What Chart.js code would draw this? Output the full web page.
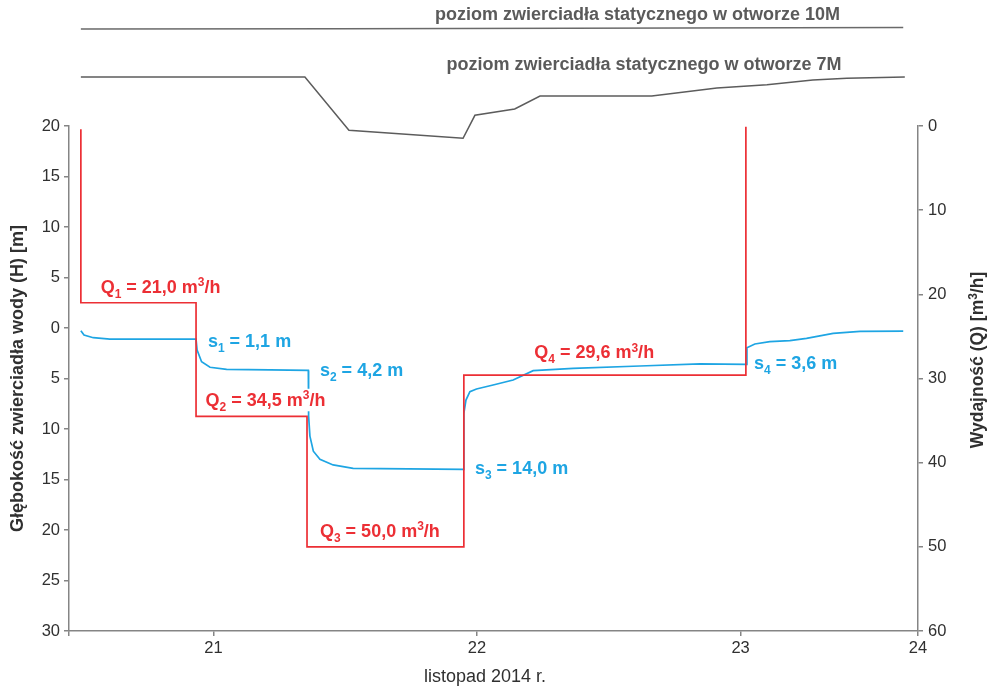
<!DOCTYPE html>
<html>
<head>
<meta charset="utf-8">
<script src="https://cdn.jsdelivr.net/npm/chart.js@4.4.1/dist/chart.umd.min.js"></script>
<style>
  html, body { margin: 0; padding: 0; background: #fff; }
  #wrap { width: 991px; height: 691px; }
</style>
</head>
<body>
<div id="wrap"><canvas id="chart" width="991" height="691"></canvas></div>
<script>
// ---- Time axis (day of November 2014) ----
const X_MIN = 20.452;
const X_MAX = 23.673;
const xTickValues = [X_MIN, 21, 22, 23, X_MAX];
const xTickLabels = ['', '21', '22', '23', '24'];
const xTitle = 'listopad 2014 r.';

// ---- Pumping rate Q [m3/h]: step changes ----
const qTimes = [20.497, 20.934, 21.355, 21.950, 23.020];
const qRates = [21.0, 34.5, 50.0, 29.6];
const qIdle = [0.4, 0.1]; // rate before start and after switch-off

// ---- Water table depth in the pumped well H [m below surface] ----
const depthTimes = [
  20.497, 20.509, 20.544, 20.607, 20.709, 20.934,
  20.938, 20.955, 20.987, 21.050, 21.214, 21.360,
  21.361, 21.366, 21.379, 21.404, 21.454, 21.530, 21.948,
  21.950, 21.958, 21.973, 21.998, 22.061, 22.137, 22.213, 22.365, 22.618, 22.846, 23.023,
  23.024, 23.054, 23.111, 23.187, 23.250, 23.351, 23.453, 23.617
];
const depthValues = [
  0.27, 0.69, 0.96, 1.10, 1.10, 1.1,
  2.18, 3.34, 3.89, 4.09, 4.15, 4.2,
  8.7, 10.7, 12.2, 13.0, 13.56, 13.9, 14.0,
  8.45, 7.13, 6.3, 6.04, 5.64, 5.15, 4.22, 3.99, 3.76, 3.55, 3.6,
  1.95, 1.58, 1.35, 1.25, 1.02, 0.53, 0.33, 0.30
];

// ---- Drawdown at the end of each step s [m] ----
const drawdowns = [1.1, 4.2, 14.0, 3.6];

// ---- Static water level in observation wells (schematic, axis units) ----
const static10MTimes = [20.497, 21.500, 23.617];
const static10MLevels = [29.60, 29.62, 29.75];
const static7MTimes = [20.497, 21.347, 21.514, 21.947, 21.992, 22.143, 22.239, 22.663, 22.910, 23.100, 23.274, 23.403, 23.623];
const static7MLevels = [24.85, 24.85, 19.57, 18.78, 21.06, 21.68, 22.97, 22.97, 23.76, 24.09, 24.55, 24.72, 24.85];
const staticNames = ['poziom zwierciadła statycznego w otworze 10M', 'poziom zwierciadła statycznego w otworze 7M'];

// ---- Build point lists ----
const zip = (xs, ys, f = v => v) => xs.map((x, i) => ({ x, y: f(ys[i]) }));

const qPoints = [{ x: qTimes[0], y: qIdle[0] }];
qRates.forEach((q, i) => {
  qPoints.push({ x: qTimes[i], y: q });
  qPoints.push({ x: qTimes[i + 1], y: q });
});
qPoints.push({ x: qTimes[qTimes.length - 1], y: qIdle[1] });

const depthPoints = zip(depthTimes, depthValues, d => -d);

// ---- Styling ----
const FONT = '"Liberation Sans", Arial, Helvetica, sans-serif';
const RED = '#ec2f35';
const BLUE = '#1ea5e3';
const AXIS = '#858585';
const TEXT = '#303030';
const GREY_TXT = '#5a5a5a';
const TICK_SIZE = 16.5;
const NOTE_SIZE = 18;

const fmt = v => v.toFixed(1).replace('.', ',');

// label anchors: time on x axis, pixel shift from the mark level
const qLabelX = [20.572, 20.970, 21.404, 22.217];
const qLabelShift = [-10, -10.5, -10, -17];
const sLabelX = [20.979, 21.404, 21.992, 23.051];
const sLabelShift = [7.6, 5.6, 4.6, 5];
const staticLabelRight = [23.377, 23.383];
const staticLabelShift = [-8, -7];

// rich text: "_c" subscript, "^c" superscript
function parseRich(str) {
  const segs = [];
  let cur = '';
  for (let i = 0; i < str.length; i++) {
    const ch = str[i];
    if ((ch === '_' || ch === '^') && i + 1 < str.length) {
      if (cur) segs.push({ t: cur, k: 'n' });
      cur = '';
      segs.push({ t: str[i + 1], k: ch === '_' ? 'sub' : 'sup' });
      i++;
    } else cur += ch;
  }
  if (cur) segs.push({ t: cur, k: 'n' });
  return segs;
}
function richFont(kind, size) {
  return `bold ${kind === 'n' ? size : Math.round(size * 0.68)}px ${FONT}`;
}
function richWidth(ctx, segs, size) {
  let w = 0;
  segs.forEach(s => { ctx.font = richFont(s.k, size); w += ctx.measureText(s.t).width; });
  return w;
}
function drawRich(ctx, str, x, y, color, size, bg) {
  const segs = parseRich(str);
  const w = richWidth(ctx, segs, size);
  if (bg) {
    ctx.fillStyle = '#fff';
    ctx.fillRect(x - 2, y - size * 0.95, w + 4, size * 1.25);
  }
  ctx.fillStyle = color;
  ctx.textBaseline = 'alphabetic';
  ctx.textAlign = 'left';
  let cx = x;
  segs.forEach(s => {
    ctx.font = richFont(s.k, size);
    const dy = s.k === 'sub' ? size * 0.27 : s.k === 'sup' ? -size * 0.36 : 0;
    ctx.fillText(s.t, cx, y + dy);
    cx += ctx.measureText(s.t).width;
  });
}
function drawRichCentered(ctx, str, cx, y, color, size) {
  const w = richWidth(ctx, parseRich(str), size);
  drawRich(ctx, str, cx - w / 2, y, color, size, false);
}

const labelPlugin = {
  id: 'pumpLabels',
  afterDatasetsDraw(chart) {
    const { ctx, scales } = chart;
    const xs = scales.x, yh = scales.y, yq = scales.yQ;
    ctx.save();
    qRates.forEach((q, i) => {
      drawRich(ctx, `Q_${i + 1} = ${fmt(q)} m^3/h`,
        xs.getPixelForValue(qLabelX[i]), yq.getPixelForValue(q) + qLabelShift[i], RED, NOTE_SIZE, true);
    });
    drawdowns.forEach((s, i) => {
      drawRich(ctx, `s_${i + 1} = ${fmt(s)} m`,
        xs.getPixelForValue(sLabelX[i]), yh.getPixelForValue(-s) + sLabelShift[i], BLUE, NOTE_SIZE, true);
    });
    const levels = [static10MLevels[static10MLevels.length - 1], static7MLevels[static7MLevels.length - 1]];
    staticNames.forEach((name, i) => {
      ctx.font = `bold 18px ${FONT}`;
      ctx.fillStyle = GREY_TXT;
      ctx.textAlign = 'right';
      ctx.textBaseline = 'alphabetic';
      ctx.fillText(name, xs.getPixelForValue(staticLabelRight[i]), yh.getPixelForValue(levels[i]) + staticLabelShift[i]);
    });
    // time axis title
    ctx.font = `18px ${FONT}`;
    ctx.fillStyle = TEXT;
    ctx.textAlign = 'center';
    ctx.textBaseline = 'middle';
    ctx.fillText(xTitle, 485, 677);
    // right axis title, read bottom to top
    ctx.translate(977, 360);
    ctx.rotate(-Math.PI / 2);
    drawRichCentered(ctx, 'Wydajność (Q) [m^3/h]', 0, 6, TEXT, 17.5);
    ctx.restore();
  }
};

const lineDefaults = { pointRadius: 0, pointHoverRadius: 0, tension: 0, fill: false };

new Chart(document.getElementById('chart'), {
  type: 'line',
  data: {
    datasets: [
      { ...lineDefaults, label: 'static10M', data: zip(static10MTimes, static10MLevels), yAxisID: 'y', borderColor: '#6a6a6a', borderWidth: 1.5, clip: false },
      { ...lineDefaults, label: 'static7M', data: zip(static7MTimes, static7MLevels), yAxisID: 'y', borderColor: '#5c5c5c', borderWidth: 1.5, clip: false },
      { ...lineDefaults, label: 'Q', data: qPoints, yAxisID: 'yQ', borderColor: RED, borderWidth: 1.7, clip: false },
      { ...lineDefaults, label: 'H', data: depthPoints, yAxisID: 'y', borderColor: BLUE, borderWidth: 1.7 }
    ]
  },
  options: {
    responsive: false,
    devicePixelRatio: 1,
    animation: false,
    events: [],
    layout: { padding: { top: 126, left: 0, right: 0, bottom: 0 } },
    plugins: { legend: { display: false }, tooltip: { enabled: false }, title: { display: false } },
    scales: {
      x: {
        type: 'linear',
        position: 'bottom',
        min: X_MIN,
        max: X_MAX,
        afterBuildTicks: s => { s.ticks = xTickValues.map(v => ({ value: v })); },
        afterFit: s => { s.height = 60; },
        ticks: {
          autoSkip: false, maxRotation: 0, padding: 3,
          color: TEXT, font: { family: FONT, size: TICK_SIZE },
          callback: (v, i) => xTickLabels[i]
        },
        grid: { drawOnChartArea: false, drawTicks: true, tickLength: 5, color: AXIS, lineWidth: 1.5 },
        border: { color: AXIS, width: 1.5 },
        title: { display: false }
      },
      y: {
        type: 'linear',
        position: 'left',
        min: -30,
        max: 20,
        afterFit: s => { s.width = 69; },
        ticks: {
          stepSize: 5, padding: 4, color: TEXT, font: { family: FONT, size: TICK_SIZE },
          callback: v => String(Math.abs(v))
        },
        grid: { drawOnChartArea: false, drawTicks: true, tickLength: 5, color: AXIS, lineWidth: 1.5 },
        border: { color: AXIS, width: 1.5 },
        title: { display: true, text: 'Głębokość zwierciadła wody (H) [m]', color: TEXT, font: { family: FONT, size: 18, weight: 'bold' }, padding: { top: 7, bottom: 0 } }
      },
      yQ: {
        type: 'linear',
        position: 'right',
        reverse: true,
        min: 0,
        max: 60,
        afterFit: s => { s.width = 73; },
        ticks: { stepSize: 10, padding: 5, color: TEXT, font: { family: FONT, size: TICK_SIZE } },
        grid: { drawOnChartArea: false, drawTicks: true, tickLength: 5, color: AXIS, lineWidth: 1.5 },
        border: { color: AXIS, width: 1.5 },
        title: { display: false }
      }
    }
  },
  plugins: [labelPlugin]
});
</script>
</body>
</html>
